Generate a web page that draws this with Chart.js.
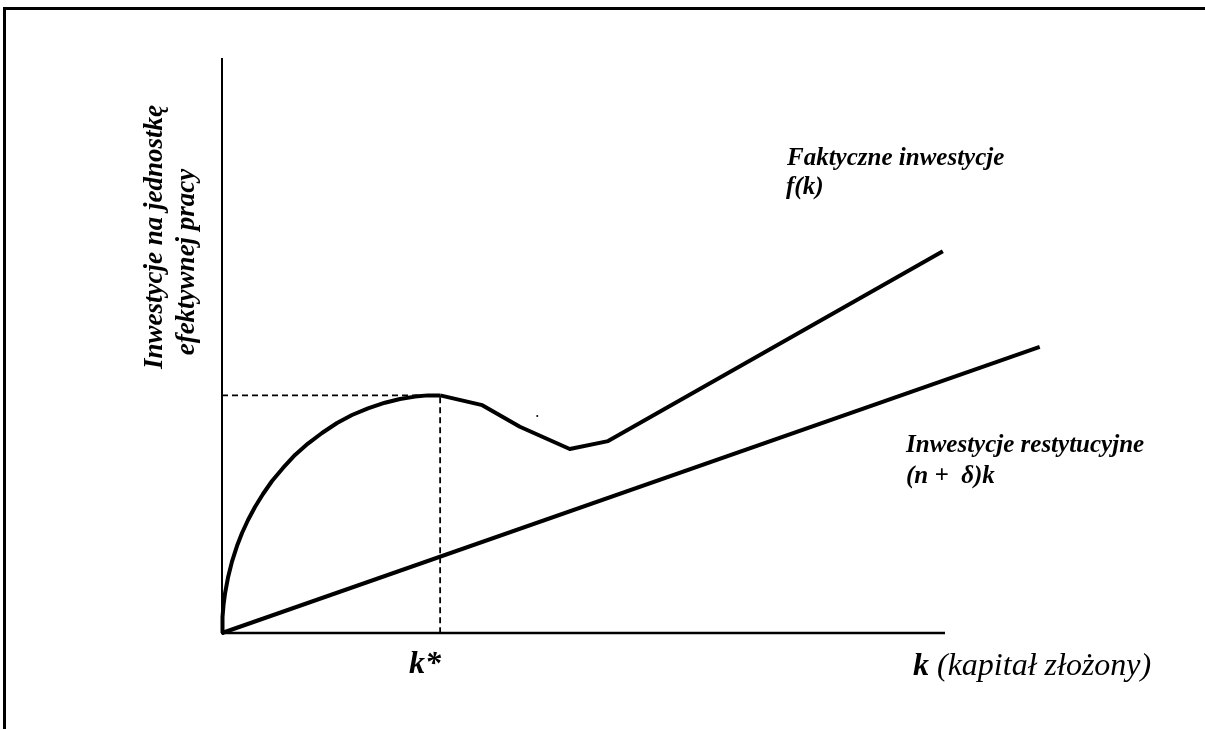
<!DOCTYPE html>
<html>
<head>
<meta charset="utf-8">
<script src="https://cdn.jsdelivr.net/npm/chart.js@4/dist/chart.umd.min.js"></script>
<style>
  body { margin: 0; background: #fff; }
  #frame { position: absolute; left: 3px; top: 7px; width: 1202px; height: 722px;
           border-top: 3px solid #000; border-left: 3px solid #000; box-sizing: border-box; }
  canvas { position: absolute; left: 0; top: 0; }
</style>
</head>
<body>
<div id="frame"></div>
<canvas id="mychart" width="1205" height="729"></canvas>
<script>
	// f(k) - faktyczne inwestycje
	const fkArcX = [0, 0.007, 0.021, 0.041, 0.083, 0.138, 0.207, 0.277, 0.360, 0.456, 0.567, 0.692, 0.844,
		1.010, 1.189, 1.383, 1.591, 1.798, 2.019, 2.254, 2.462, 2.670, 2.849, 3.017];
	const fkArcY = [0, 0.223, 0.390, 0.543, 0.771, 0.993, 1.210, 1.391, 1.572, 1.753, 1.934, 2.115, 2.296,
		2.477, 2.635, 2.783, 2.922, 3.033, 3.125, 3.204, 3.256, 3.289, 3.306, 3.306];
	const fkTailX = [3.017, 3.60, 4.12, 4.81, 5.34, 9.97];
	const fkTailY = [3.306, 3.17, 2.87, 2.56, 2.67, 5.31];
	// (n + delta)k - inwestycje restytucyjne
	const restX = [0, 11.31];
	const restY = [0, 3.98];
	// k* and f(k*)
	const kStar = 3.017;
	const fkStar = 3.306;
	const xAxisEnd = 10;
	const strayDot = [4.36, 3.02];

	function pts(xs, ys){
		var out = [];
		for (var i = 0; i < xs.length; i++) out.push({x: xs[i], y: ys[i]});
		return out;
	}

	const serif = "'Liberation Serif', 'Times New Roman', serif";

	const axesAndText = {
		id: 'axesAndText',
		afterDatasetsDraw(chart){
			const ctx = chart.ctx;
			const xs = chart.scales.x, ys = chart.scales.y;
			const ox = xs.getPixelForValue(0), oy = ys.getPixelForValue(0);
			ctx.save();
			ctx.strokeStyle = '#000';
			ctx.lineCap = 'butt';
			ctx.lineWidth = 2;
			ctx.beginPath();
			ctx.moveTo(ox, chart.chartArea.top);
			ctx.lineTo(ox, oy);
			ctx.stroke();
			ctx.lineWidth = 2.5;
			ctx.beginPath();
			ctx.moveTo(ox - 1, oy);
			ctx.lineTo(xs.getPixelForValue(xAxisEnd), oy);
			ctx.stroke();

			ctx.fillStyle = '#000';
			ctx.textBaseline = 'alphabetic';
			ctx.textAlign = 'left';
			ctx.font = 'bold italic 25px ' + serif;
			ctx.fillText('Faktyczne inwestycje', 787, 165);
			ctx.fillText('f(k)', 786, 194);
			ctx.fillText('Inwestycje restytucyjne', 906, 452);
			ctx.fillText('(n +  \u03b4)k', 906, 483);

			ctx.font = 'bold italic 32px ' + serif;
			ctx.fillText('k*', 409, 673);
			ctx.fillText('k', 913, 675);
			var kw = ctx.measureText('k').width;
			ctx.font = 'italic 32px ' + serif;
			ctx.fillText(' (kapita\u0142 z\u0142o\u017cony)', 913 + kw, 675);

			ctx.font = 'bold italic 27px ' + serif;
			ctx.textAlign = 'center';
			ctx.save();
			ctx.translate(162, 237);
			ctx.rotate(-Math.PI / 2);
			ctx.fillText('Inwestycje na jednostk\u0119', 0, 0);
			ctx.restore();
			ctx.save();
			ctx.translate(194, 262);
			ctx.rotate(-Math.PI / 2);
			ctx.fillText('efektywnej pracy', 0, 0);
			ctx.restore();
			ctx.restore();
		}
	};

	var ctx = document.getElementById('mychart').getContext('2d');
	var myChart = new Chart(ctx, {
		type: 'line',
		data: {
			datasets: [{
				label: 'f(k) arc',
				data: pts(fkArcX, fkArcY),
				borderColor: '#000',
				borderWidth: 4,
				pointRadius: 0,
				tension: 0,
				borderJoinStyle: 'round',
				fill: false
			}, {
				label: 'f(k)',
				data: pts(fkTailX, fkTailY),
				borderColor: '#000',
				borderWidth: 4,
				pointRadius: 0,
				tension: 0,
				borderJoinStyle: 'round',
				fill: false
			}, {
				label: '(n + d)k',
				data: pts(restX, restY),
				borderColor: '#000',
				borderWidth: 4,
				pointRadius: 0,
				fill: false
			}, {
				label: 'k* guide',
				data: [{x: 0, y: fkStar}, {x: kStar, y: fkStar}, {x: kStar, y: 0}],
				borderColor: '#000',
				borderWidth: 1.8,
				borderDash: [6, 4],
				pointRadius: 0,
				fill: false
			}, {
				label: 'dot',
				data: [{x: strayDot[0], y: strayDot[1]}],
				showLine: false,
				pointRadius: 1,
				pointBackgroundColor: '#000',
				pointBorderWidth: 0
			}]
		},
		options: {
			responsive: false,
			animation: false,
			layout: { padding: { left: 222, top: 58, right: 115.4, bottom: 96 } },
			plugins: { legend: { display: false }, tooltip: { enabled: false } },
			scales: {
				x: { type: 'linear', min: 0, max: 12, display: false },
				y: { type: 'linear', min: 0, max: 8, display: false }
			},
			elements: { line: { borderCapStyle: 'butt' } },
			clip: false
		},
		plugins: [axesAndText]
	});
</script>
</body>
</html>
